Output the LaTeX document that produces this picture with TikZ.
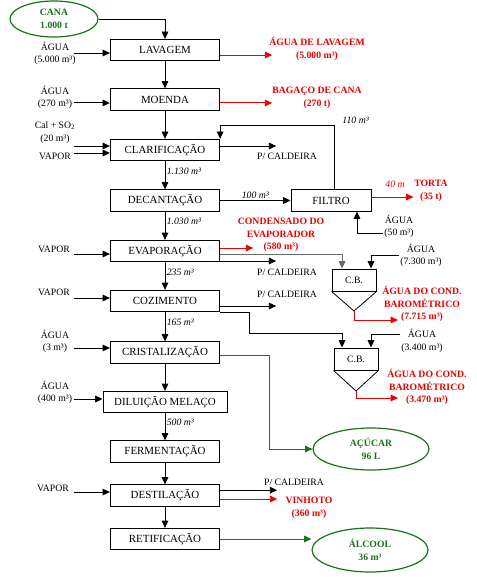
\documentclass[tikz,border=0pt]{standalone}
\usepackage{fontspec}
\setmainfont{Liberation Serif}
\usetikzlibrary{arrows.meta,shapes.geometric}
\definecolor{verde}{RGB}{25,115,25}
\definecolor{vermelho}{RGB}{235,0,0}
\definecolor{cinza}{RGB}{105,105,105}
\tikzset{
    seta/.style={-{Triangle[length=5.5pt,width=5pt]}, line width=0.7pt},
    rotulo/.style={align=center, inner sep=1pt, font=\fontsize{7.3}{9.5}\selectfont}
}

\begin{document}
\begin{tikzpicture}[x=0.75pt, y=-0.75pt,
    etapa/.style={draw, rectangle, line width=0.7pt, minimum width=82pt, minimum height=16pt, inner sep=1pt, font=\fontsize{8.2}{10}\selectfont},
    saida/.style={rotulo, text=vermelho, font=\fontsize{7.3}{9.5}\selectfont\bfseries},
    vazao/.style={rotulo, font=\fontsize{7.3}{9.5}\selectfont\itshape},
    produto/.style={draw=verde, ellipse, line width=0.9pt, text=verde, align=center, inner sep=0pt, font=\fontsize{7.3}{9.5}\selectfont\bfseries}]
\useasboundingbox (0,0) rectangle (476,581);

% produtos
\node[produto, minimum width=66pt, minimum height=27pt] (cana) at (54,19) {CANA\\1.000 t};
\node[produto, minimum width=87pt, minimum height=31.5pt] (acucar) at (371,449) {AÇÚCAR\\96 L};
\node[produto, minimum width=87pt, minimum height=33pt] (alcool) at (370,550) {ÁLCOOL\\36 m³};

% etapas
\node[etapa] (lav) at (165,50) {LAVAGEM};
\node[etapa] (moe) at (165,99.5) {MOENDA};
\node[etapa] (cla) at (165,150) {CLARIFICAÇÃO};
\node[etapa] (dec) at (165,200.5) {DECANTAÇÃO};
\node[etapa] (eva) at (165,251) {EVAPORAÇÃO};
\node[etapa] (coz) at (165,301) {COZIMENTO};
\node[etapa] (cri) at (165,352.5) {CRISTALIZAÇÃO};
\node[etapa, minimum width=93pt] (dil) at (165,402) {DILUIÇÃO MELAÇO};
\node[etapa] (fer) at (165,451.5) {FERMENTAÇÃO};
\node[etapa] (des) at (165,495.5) {DESTILAÇÃO};
\node[etapa] (ret) at (165,539) {RETIFICAÇÃO};
\node[etapa, minimum width=60pt] (fil) at (331,200.5) {FILTRO};
\node[etapa, rotulo, draw, minimum width=33pt, minimum height=16.5pt] (cb1) at (354,280) {C.B.};
\node[etapa, rotulo, draw, minimum width=33pt, minimum height=16.5pt] (cb2) at (356,359) {C.B.};
\coordinate (cb1v) at (354,311);
\coordinate (cb2v) at (356,391);
\draw[line width=0.6pt] (cb1.south west) -- (cb1v) -- (cb1.south east);
\draw[line width=0.6pt] (cb2.south west) -- (cb2v) -- (cb2.south east);

% entradas
\node[rotulo] (aguaLav) at (55,53.5) {ÁGUA\\(5.000 m³)};
\node[rotulo] (aguaMoe) at (55,97.5) {ÁGUA\\(270 m³)};
\node[rotulo] (cal) at (55,132.5) {Cal + SO\textsubscript{2}\\(20 m³)};
\node[rotulo] (vapCla) at (55,156) {VAPOR};
\node[rotulo] (vapEva) at (54,249) {VAPOR};
\node[rotulo] (vapCoz) at (54,292) {VAPOR};
\node[rotulo] (aguaCri) at (55,341.5) {ÁGUA\\(3 m³)};
\node[rotulo] (aguaDil) at (55,392.5) {ÁGUA\\(400 m³)};
\node[rotulo] (vapDes) at (53,488) {VAPOR};
\foreach \n/\s/\c in {lav/-2.25pt/27pt, moe/-2.6pt/27pt, cla/3pt/27pt, cla/-2.25pt/27pt, eva/-2.25pt/27pt,
                      coz/2.25pt/27pt, cri/3.4pt/27pt, dil/2.25pt/21.75pt, des/2.6pt/27pt}
    \draw[seta] ([xshift=-\c, yshift=\s]\n.west) -- ([yshift=\s]\n.west);

% fluxo principal
\draw[seta] (cana.east) -| (lav.north);
\foreach \a/\b/\q in {lav/moe/, moe/cla/, cla/dec/1.130 m³, dec/eva/1.030 m³, eva/coz/235 m³,
                      coz/cri/165 m³, cri/dil/, dil/fer/500 m³, fer/des/, des/ret/}
    \draw[seta] (\a) -- node[vazao, right, pos=0.35]{\q} (\b);

% saidas
\draw[seta, vermelho] ([yshift=-3.75pt]lav.east) -- ++(52,0);
\node[saida] (sLav) at (317,49) {ÁGUA DE LAVAGEM\\(5.000 m³)};
\draw[seta, vermelho] ([yshift=-2.6pt]moe.east) -- ++(52,0);
\node[saida] (sMoe) at (317,97.5) {BAGAÇO DE CANA\\(270 t)};
\draw[seta] ([yshift=3pt]cla.east) -- ++(56,0);
\node[rotulo] (caldCla) at (287,156) {P/ CALDEIRA};

% filtro
\draw[seta] (dec) -- node[vazao, above]{100 m³} (fil);
\draw[seta] ([xshift=2.25pt]fil.north) |- node[vazao, above right, xshift=5pt]{110 m³} ([yshift=9.75pt]cla.north east) -- (cla.north east);
\draw[seta, vermelho] ([yshift=2.6pt]fil.east) -- ++(42,0);
\node[vazao, text=vermelho] (v40) at (395,184) {40 m};
\node[saida] (torta) at (431,190.5) {TORTA\\(35 t)};
\node[rotulo] (agua50) at (399,226.5) {ÁGUA\\(50 m³)};
\draw[seta] ([yshift=-5pt]agua50.west) -| ([xshift=19.5pt]fil.south);

% evaporacao
\draw[seta, vermelho] ([yshift=2.25pt]eva.east) -- ++(33,0);
\node[saida] (cond) at (281,235) {CONDENSADO DO\\EVAPORADOR\\(580 m³)};
\draw[seta, cinza] ([yshift=-2.25pt]eva.east) -| ([xshift=-9pt]cb1.north);
\draw[seta] ([yshift=-7.5pt]eva.east) -- ++(56,0);
\node[rotulo] (caldEva) at (287,272) {P/ CALDEIRA};
\node[rotulo] (agua7300) at (421,255.5) {ÁGUA\\(7.300 m³)};
\draw[seta] (agua7300.west) -| ([xshift=12.75pt]cb1.north);
\draw[seta, vermelho] (cb1v) -- ++(0,9) -- ++(44,0);
\node[saida] (cond1) at (422,304) {ÁGUA DO COND.\\BAROMÉTRICO\\(7.715 m³)};

% cozimento
\draw[seta] ([yshift=-3.75pt]coz.east) -- ++(56,0);
\node[rotulo] (caldCoz) at (287,294) {P/ CALDEIRA};
\draw[seta] (coz.south east) -- ++(29,0) |- ([xshift=-10.5pt, yshift=10.5pt]cb2.north) -- ([xshift=-10.5pt]cb2.north);
\node[rotulo] (agua3400) at (422,341) {ÁGUA\\(3.400 m³)};
\draw[seta] ([yshift=5pt]agua3400.west) -| ([xshift=11.25pt]cb2.north);
\draw[seta, vermelho] (cb2v) -- ++(0,7) -- ++(42,0);
\node[saida] (cond2) at (427,387) {ÁGUA DO COND.\\BAROMÉTRICO\\(3.470 m³)};

% cristalizacao, destilacao, retificacao
\draw[seta, verde] ([yshift=-1.9pt]cri.east) -- ++(49,0) |- (acucar);
\draw[seta] ([yshift=4pt]des.east) -- ++(57,0);
\node[rotulo] (caldDes) at (294,482) {P/ CALDEIRA};
\draw[seta, vermelho] ([yshift=-2.6pt]des.east) -- ++(57,0);
\node[saida] (vinhoto) at (309,507.5) {VINHOTO\\(360 m³)};
\draw[seta, verde] (ret.east) -- (ret.east -| alcool.west);
\end{tikzpicture}
\end{document}
